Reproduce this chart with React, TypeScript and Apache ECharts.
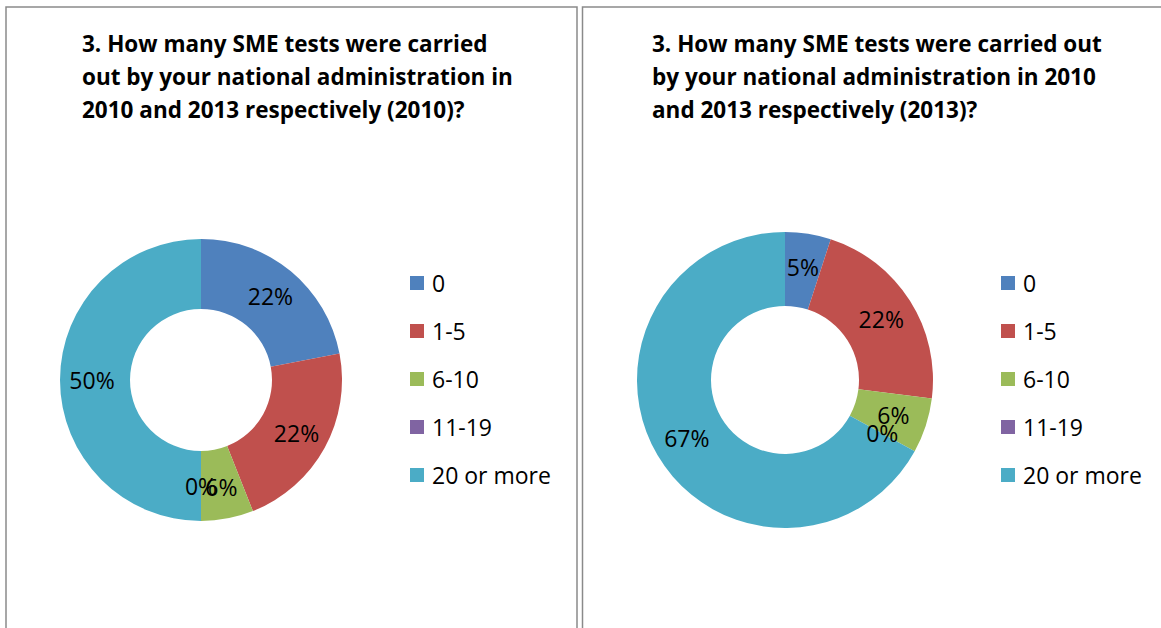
import React, { useEffect, useRef } from "react";
import * as echarts from "echarts";

const categories = ["0", "1-5", "6-10", "11-19", "20 or more"];
const values2010 = [22, 22, 6, 0, 50];
const values2013 = [5, 22, 6, 0, 67];
const colors = ["#4F81BD", "#C0504D", "#9BBB59", "#8064A2", "#4BACC6"];
const title2010 = "3. How many SME tests were carried\nout by your national administration in\n2010 and 2013 respectively (2010)?";
const title2013 = "3. How many SME tests were carried out\nby your national administration in 2010\nand 2013 respectively (2013)?";

const FONT = "'Open Sans', 'Noto Sans', sans-serif";
const LABEL_SIZE = 23;

export default function App() {
  const ref = useRef<HTMLDivElement>(null);
  useEffect(() => {
    if (!ref.current) return;
    const chart = echarts.init(ref.current, undefined, { renderer: "svg" });
    const mkData = (vals: number[]) =>
      categories.map((name, i) => ({ name, value: vals[i], itemStyle: { color: colors[i] } }));
    const pieBase = {
      type: "pie",
      startAngle: 90,
      clockwise: true,
      avoidLabelOverlap: false,
      label: {
        show: true,
        position: "inside",
        formatter: "{c}%",
        color: "#000",
        fontFamily: FONT,
        fontSize: LABEL_SIZE,
        textBorderWidth: 0,
      },
      labelLine: { show: false },
      emphasis: { disabled: true },
      itemStyle: { borderWidth: 0 },
    };
    const legendBase = {
      orient: "vertical",
      top: 271,
      padding: 0,
      itemWidth: 14,
      itemHeight: 14,
      itemGap: 24,
      icon: "rect",
      selectedMode: false,
      data: categories,
      textStyle: {
        fontFamily: FONT,
        fontSize: 23,
        color: "#000",
        lineHeight: 24,
        padding: [0, 0, 0, 3],
      },
    };
    const titleStyle = {
      fontFamily: FONT,
      fontSize: 22.5,
      fontWeight: "bold",
      color: "#000",
      lineHeight: 33,
    };
    const borders = [
      {
        type: "rect",
        shape: { x: 6, y: 7, width: 571, height: 640 },
        style: { fill: "none", stroke: "#8a8a8a", lineWidth: 1.5 },
        silent: true,
        z: 0,
      },
      {
        type: "rect",
        shape: { x: 582.5, y: 7, width: 620, height: 640 },
        style: { fill: "none", stroke: "#8a8a8a", lineWidth: 1.5 },
        silent: true,
        z: 0,
      },
    ];
    chart.setOption({
      animation: false,
      backgroundColor: "#fff",
      title: [
        { text: title2010, left: 82, top: 27, padding: 0, textStyle: titleStyle },
        { text: title2013, left: 652, top: 27, padding: 0, textStyle: titleStyle },
      ],
      legend: [
        { ...legendBase, left: 410 },
        { ...legendBase, left: 1001 },
      ],
      graphic: borders,
      series: [
        { ...pieBase, name: "2010", center: [201, 380], radius: [71, 141], data: mkData(values2010) },
        { ...pieBase, name: "2013", center: [785, 380], radius: [74, 148], data: mkData(values2013) },
      ],
    });

    // ECharts hides labels of zero-value slices; place them from the library's own pie layout.
    const zeroLabels: any[] = [];
    try {
      const model = (chart as any).getModel();
      [values2010, values2013].forEach((vals, si) => {
        const data = model.getSeriesByIndex(si).getData();
        vals.forEach((v, idx) => {
          if (v !== 0) return;
          const l = data.getItemLayout(idx);
          if (!l) return;
          const mid = (l.startAngle + l.endAngle) / 2;
          const rr = (l.r0 + l.r) / 2;
          zeroLabels.push({
            type: "text",
            x: l.cx + rr * Math.cos(mid),
            y: l.cy + rr * Math.sin(mid),
            silent: true,
            z: 10,
            style: {
              text: `${v}%`,
              fill: "#000",
              font: `${LABEL_SIZE}px ${FONT}`,
              align: "center",
              verticalAlign: "middle",
            },
          });
        });
      });
    } catch (e) {
      // ignore
    }
    if (zeroLabels.length) {
      chart.setOption({ graphic: [...borders, ...zeroLabels] });
    }
    return () => chart.dispose();
  }, []);
  return (
    <div
      ref={ref}
      style={{ position: "absolute", left: 0, top: 0, width: 1161, height: 628 }}
    />
  );
}
